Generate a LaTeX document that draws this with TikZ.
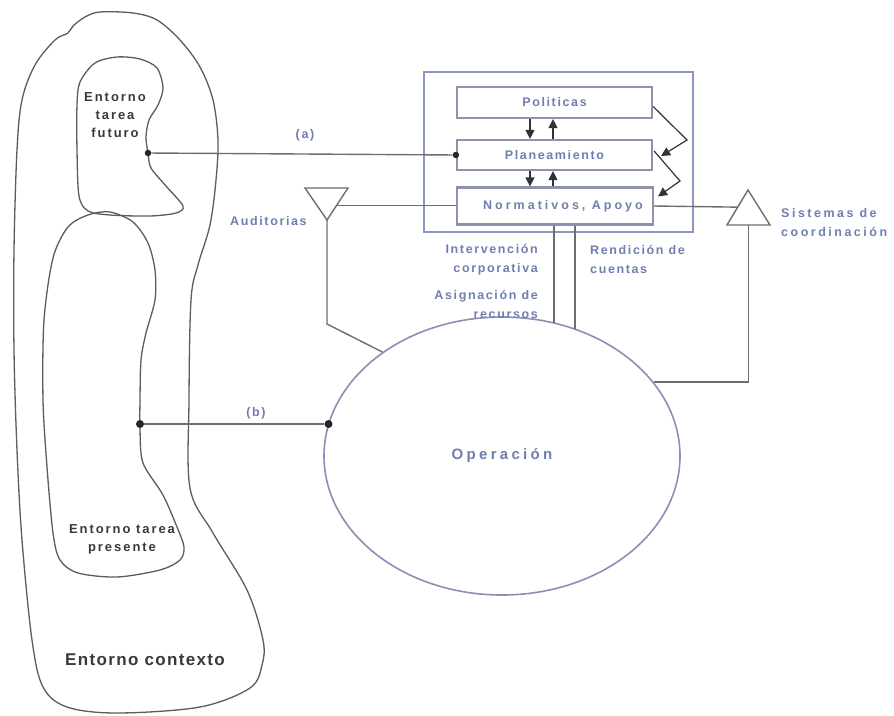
\documentclass[tikz,border=0pt]{standalone}
\usepackage{fontspec}
\setmainfont{Liberation Sans}
\newfontfamily\fblue[LetterSpace=13]{Liberation Sans}
\newfontfamily\fwide[LetterSpace=24]{Liberation Sans}
\newfontfamily\fsis[LetterSpace=20]{Liberation Sans}
\newfontfamily\fop[LetterSpace=22]{Liberation Sans}
\newfontfamily\fdark[LetterSpace=15]{Liberation Sans}
\newfontfamily\fctx[LetterSpace=8]{Liberation Sans}
\usetikzlibrary{arrows.meta,shapes.geometric,calc}

\definecolor{blueT}{RGB}{112,126,176}
\definecolor{darkT}{RGB}{58,58,58}
\definecolor{blobC}{RGB}{92,92,92}
\definecolor{connC}{RGB}{110,110,110}
\definecolor{outerC}{RGB}{138,150,200}
\definecolor{innerC}{RGB}{140,146,174}
\definecolor{ellC}{RGB}{140,142,180}

\tikzset{
  blob/.style={draw=blobC, line width=1.3pt},
  conn/.style={draw=connC, line width=1.4pt},
  arr/.style={draw=black!80, line width=1.2pt, -{Triangle[length=9pt,width=9pt]}},
  bluetxt/.style={font=\fblue\bfseries\fontsize{12.5}{19}\selectfont, text=blueT, inner sep=0pt},
  sistxt/.style={font=\fsis\bfseries\fontsize{12.5}{19}\selectfont, text=blueT, inner sep=0pt},
  darktxt/.style={font=\fdark\bfseries\fontsize{13}{18}\selectfont, text=darkT, inner sep=0pt, align=center},
  ctxtxt/.style={font=\fctx\bfseries\fontsize{17}{19}\selectfont, text=darkT, inner sep=0pt},
  ibox/.style={draw=innerC, line width=2.2pt, fill=white, inner sep=0pt,
    font=\fblue\bfseries\fontsize{12.5}{14}\selectfont, text=blueT},
  dota/.style={circle, fill=black!85, minimum size=6.5pt, inner sep=0pt},
  dotb/.style={circle, fill=black!85, minimum size=8pt, inner sep=0pt},
}

\begin{document}
\begin{tikzpicture}[x=1pt,y=-1pt]
\useasboundingbox (0,0) rectangle (894,715);
\fill[white] (0,0) rectangle (894,715);

% ---- environment regions ----
% outer context region
\draw[blob] plot[smooth cycle, tension=0.55] coordinates {
  (100,12) (133,13) (157,20) (180,40) (200,67) (213,100) (218,140) (216,180)
  (210,225) (198,265) (191,300) (189,400) (190,488) (213,533) (247,590)
  (263,640) (262,665) (250,688) (200,707) (117,713) (67,707) (43,687)
  (32,640) (22,540) (17,450) (14,350) (14,250) (17,150) (22,100) (35,65)
  (55,40) (68,33) (73,26) (85,17)};
% future task region
\draw[blob] plot[smooth cycle, tension=0.5] coordinates {
  (80,82) (95,63) (117,57) (140,59) (157,68) (163,88) (158,105) (149,120)
  (146,137) (148,153) (151,168) (166,186) (183,206) (176,213) (150,216)
  (110,215) (88,211) (79,196) (77,150) (77,105)};
% present task region
\draw[blob] plot[smooth cycle, tension=0.5] coordinates {
  (53,258) (68,227) (88,215) (110,212) (133,222) (148,243) (155,270)
  (155,300) (146,333) (141,360) (140,400) (140,430) (143,463) (163,495)
  (177,527) (184,547) (180,560) (160,570) (117,577) (78,573) (60,560)
  (53,533) (47,467) (43,400) (44,320)};

\node[darktxt] (tfut) at (115,115) {Entorno\\tarea\\futuro};
\node[darktxt] (tpre) at (122,539) {Entorno tarea\\presente};
\node[ctxtxt] (tctx) at (145,660) {Entorno contexto};

% ---- corporate block ----
\node[draw=outerC, line width=1.8pt, minimum width=269pt, minimum height=160pt,
      inner sep=0pt] (corp) at (558.5,152) {};
\node[ibox, minimum width=195pt, minimum height=31pt] (pol) at (554.5,102.5) {Politicas};
\node[ibox, minimum width=195pt, minimum height=30pt] (plan) at (554.5,155) {Planeamiento};
\node[ibox, minimum width=196pt, minimum height=37pt,
      font=\fwide\bfseries\fontsize{12.5}{14}\selectfont] (nor) at (555,206)
      {\hspace*{16pt}Normativos, Apoyo};

% arrows between the levels
\coordinate (dx) at (530,0);
\coordinate (ux) at (553,0);
\draw[arr] (pol.south -| dx) -- (plan.north -| dx);
\draw[arr] (plan.north -| ux) -- (pol.south -| ux);
\draw[arr] (plan.south -| dx) -- (nor.north -| dx);
\draw[arr] (nor.north -| ux) -- (plan.south -| ux);
% feedback on the right
\draw[arr] ($(pol.east)+(0,4)$) -- (687,140) -- ($(plan.east)+(8,1)$);
\draw[arr] ($(plan.east)+(1,-4)$) -- (680,181) -- ($(nor.north east)+(4,10)$);

% ---- operation ----
\node[ellipse, draw=ellC, line width=1.6pt, minimum width=356pt, minimum height=278pt,
      inner sep=0pt, font=\fop\bfseries\fontsize{15}{17}\selectfont, text=blueT]
      (op) at (502,456) {Operación};

% ---- link (a) ----
\node[dota] (pa) at (148,153) {};
\node[dota] (pa2) at (plan.west) {};
\draw[conn] (pa) -- (pa2);
\node[bluetxt] (la) at (305,135) {(a)};

% ---- link (b) ----
\node[dotb] (pb) at (140,424) {};
\node[dotb] (pb2) at (pb -| op.169.5) {};
\draw[conn] (pb) -- (pb2);
\node[bluetxt] (lb) at (256,413) {(b)};

% ---- audits ----
\coordinate (auL) at (305,188);
\coordinate (auR) at (348,188);
\coordinate (auA) at (327,220);
\draw[conn] (auL) -- (auR) -- (auA) -- cycle;
\coordinate (auS) at ($(auR)!0.55!(auA)$);
\draw[conn] (auS) -- (auS -| nor.west);
\coordinate (auK) at (327,324);
\draw[conn] (auA) -- (auK) -- (op.139.1);
\node[bluetxt, anchor=west] (laud) at (230,221) {Auditorias};

% ---- coordination systems ----
\coordinate (siA) at (748,190);
\coordinate (siL) at (727,225);
\coordinate (siR) at (770,225);
\draw[conn] (siA) -- (siL) -- (siR) -- cycle;
\coordinate (siS) at ($(siA)!0.49!(siL)$);
\draw[conn] (nor.east) -- (siS);
\coordinate (siB) at ($(siL)!0.5!(siR)$);
\draw[conn] (siB) |- (op.26.1);
\node[sistxt, anchor=west, align=left] (lsis) at (781,222.5) {Sistemas de\\coordinación};

% ---- corporate links to operation ----
\coordinate (ivx) at (554,0);
\coordinate (rcx) at (575,0);
\draw[conn] (ivx |- nor.south) -- (ivx |- op.68.6);
\draw[conn] (rcx |- nor.south) -- (rcx |- op.60.1);
\node[bluetxt, anchor=east, align=right] (lint) at (538,260) {Intervención\\corporativa};
\node[bluetxt, anchor=east, align=right] (lasig) at (538,304) {Asignación de\\recursos};
\node[bluetxt, anchor=west, align=left] (lren) at (590,259.5) {Rendición de\\cuentas};

\end{tikzpicture}
\end{document}
